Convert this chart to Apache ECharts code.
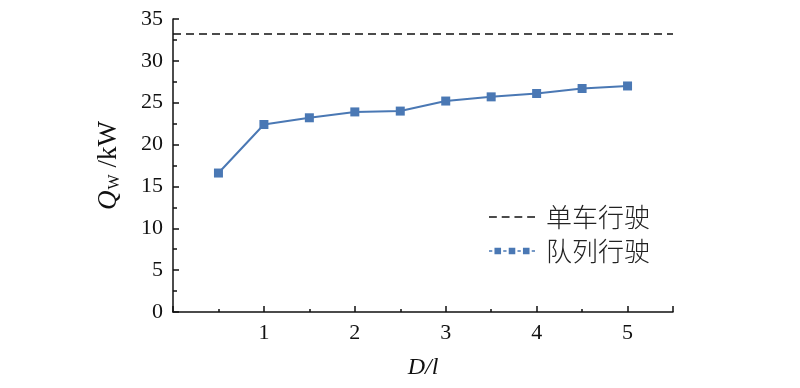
<!DOCTYPE html>
<html><head><meta charset="utf-8">
<script src="https://cdn.jsdelivr.net/npm/echarts@6/dist/echarts.min.js"></script>
<style>html,body{margin:0;padding:0;background:#fff}#c{width:800px;height:388px}</style>
</head><body><div id="c"></div>
<script>
const xValues = [0.5, 1, 1.5, 2, 2.5, 3, 3.5, 4, 4.5, 5];
const platoonQw = [16.6, 22.4, 23.2, 23.9, 24.0, 25.2, 25.7, 26.1, 26.7, 27.0];
const singleQw = 33.2;
const singleRange = [0, 5.5];
const seriesNames = ['单车行驶', '队列行驶'];
const xTicks = [1, 2, 3, 4, 5];
const yTicks = [0, 5, 10, 15, 20, 25, 30, 35];

const dashIcon = 'path://M0 0h8v1.6h-8zM13 0h8v1.6h-8zM26 0h8v1.6h-8zM39 0h8v1.6h-8z';
const sqIcon = 'path://M0 2.4h3v1.2h-3zM5 0h6v6h-6zM13 2.4h3v1.2h-3zM18 0h6v6h-6zM26 2.4h3v1.2h-3zM31 0h6v6h-6zM39 2.4h3v1.2h-3z';

const chart = echarts.init(document.getElementById('c'));
const serif = 'Liberation Serif, Times New Roman, serif';
chart.setOption({
  animation: false,
  backgroundColor: '#fff',
  grid: {left: 173, right: 127, top: 19, bottom: 76},
  legend: {
    orient: 'vertical', left: 484, top: 199, itemWidth: 46, itemHeight: 14, itemGap: 8,
    symbolKeepAspect: true,
    itemStyle: {borderWidth: 0},
    textStyle: {fontFamily: 'Noto Sans CJK SC', fontSize: 26, color: '#222', fontWeight: 300,
      padding: [0, 0, 0, 6]},
    data: [
      {name: seriesNames[0], icon: dashIcon},
      {name: seriesNames[1], icon: sqIcon}
    ]
  },
  xAxis: {
    type: 'value', min: 0, max: 5.5, interval: 1,
    name: '{i|D/l}', nameLocation: 'middle', nameGap: 44,
    nameTextStyle: {rich: {i: {fontFamily: serif, fontStyle: 'italic', fontSize: 24, color: '#111'}}},
    axisLine: {lineStyle: {color: '#111', width: 1.5}},
    axisTick: {inside: true, length: 6, lineStyle: {color: '#111', width: 1.5}},
    minorTick: {show: true, splitNumber: 2, length: 3, lineStyle: {color: '#111', width: 1.5}},
    axisLabel: {fontFamily: serif, fontSize: 22, color: '#111', margin: 10, showMaxLabel: false,
      formatter: v => xTicks.includes(v) ? String(v) : ''},
    splitLine: {show: false}
  },
  yAxis: {
    type: 'value', min: 0, max: 35, interval: 5,
    name: '{q|Q}{s|W}{n| /kW}', nameLocation: 'middle', nameGap: 50, nameRotate: 90,
    nameTextStyle: {rich: {
      q: {fontFamily: serif, fontStyle: 'italic', fontSize: 27, color: '#111'},
      s: {fontFamily: serif, fontSize: 16, color: '#111', padding: [12, 0, 0, 1]},
      n: {fontFamily: serif, fontSize: 27, color: '#111'}
    }},
    axisLine: {show: true, lineStyle: {color: '#111', width: 1.5}},
    axisTick: {show: true, inside: true, length: 6, lineStyle: {color: '#111', width: 1.5}},
    minorTick: {show: true, splitNumber: 2, length: 4, lineStyle: {color: '#111', width: 1.5}},
    axisLabel: {fontFamily: serif, fontSize: 22, color: '#111', margin: 10,
      formatter: v => yTicks.includes(v) ? String(v) : ''},
    splitLine: {show: false}
  },
  series: [
    {
      name: seriesNames[0], type: 'line', symbol: 'none',
      data: singleRange.map(x => [x, singleQw]),
      lineStyle: {color: '#111', width: 1.6, type: [8, 5]},
      itemStyle: {color: '#111'}
    },
    {
      name: seriesNames[1], type: 'line', symbol: 'rect', symbolSize: 9,
      data: xValues.map((x, i) => [x, platoonQw[i]]),
      lineStyle: {color: '#4a78b4', width: 2},
      itemStyle: {color: '#4a78b4'}
    }
  ]
});
</script></body></html>
